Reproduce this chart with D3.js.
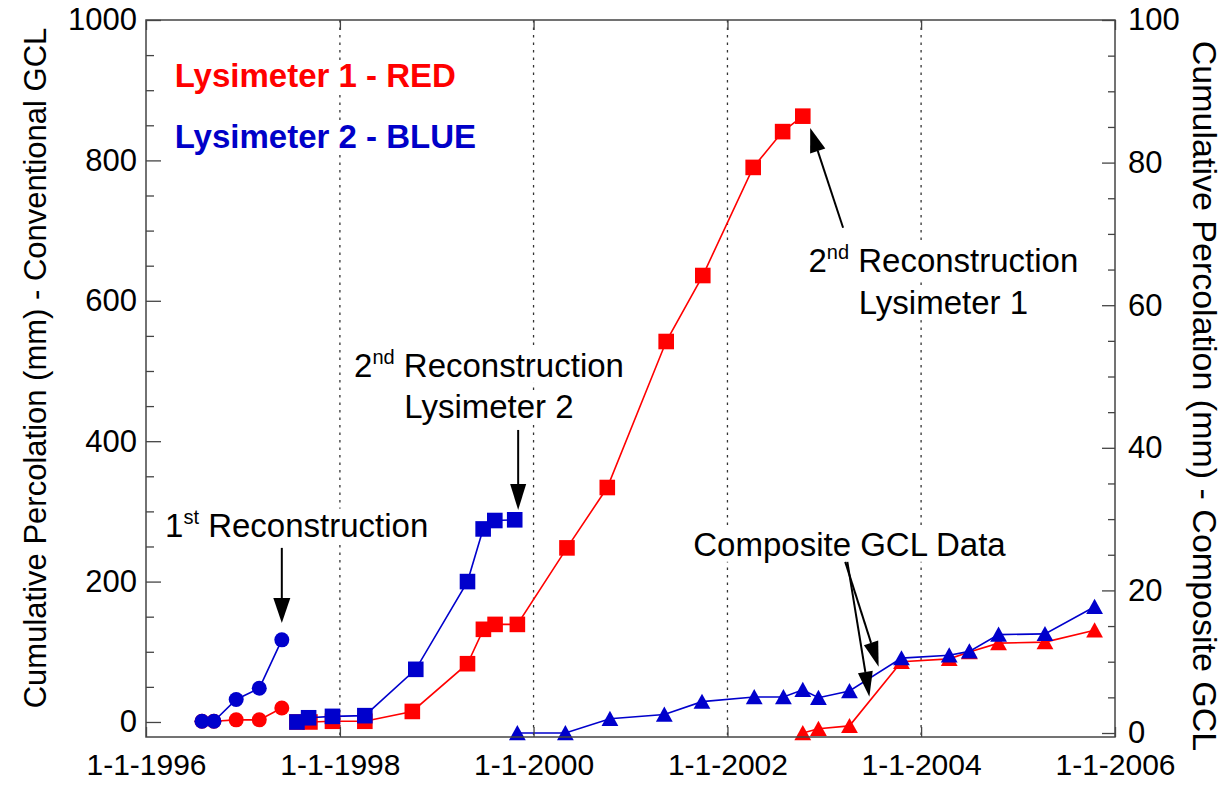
<!DOCTYPE html>
<html>
<head>
<meta charset="utf-8">
<script src="https://cdn.jsdelivr.net/npm/d3@7"></script>
<style>
  body { margin: 0; background: #fff; }
  svg { display: block; }
  text { font-family: "Liberation Sans", Arial, Helvetica, sans-serif; white-space: pre; }
</style>
</head>
<body>
<svg id="chart" width="1223" height="791"></svg>
<script>
// ---- Data -------------------------------------------------------------
// First construction period (circles), left axis, mm
const circleDates = ["1996-07-30", "1996-09-13", "1996-12-06", "1997-03-03", "1997-05-27"];
const lys1CircleValues = [1, 1, 3, 3, 20];
const lys2CircleValues = [1, 1, 32, 48, 117];

// After first reconstruction (squares), left axis, mm
const lys1SquareDates = ["1997-07-23", "1997-09-10", "1997-12-04", "1998-04-05", "1998-10-01",
  "1999-04-27", "1999-06-26", "1999-08-09", "1999-11-01", "2000-05-06", "2000-10-05",
  "2001-05-15", "2001-09-30", "2002-04-08", "2002-07-28", "2002-10-12"];
const lys1SquareValues = [0, 0, 1, 1, 15, 83, 132, 139, 139, 248, 334, 542, 636, 790, 841, 863];

const lys2SquareDates = ["1997-07-23", "1997-09-05", "1997-12-04", "1998-04-05", "1998-10-14",
  "1999-04-27", "1999-06-25", "1999-08-08", "1999-10-22"];
const lys2SquareValues = [0, 6, 8, 9, 75, 200, 275, 287, 288];

// Composite GCL (triangles), right axis, mm
const lys2TriangleDates = ["1999-11-01", "2000-04-30", "2000-10-15", "2001-05-08", "2001-09-27",
  "2002-04-12", "2002-07-31", "2002-10-12", "2002-12-10", "2003-04-06", "2003-10-19",
  "2004-04-16", "2004-07-01", "2004-10-19", "2005-04-12", "2005-10-16"];
const lys2TriangleValues = [0, 0, 2.0, 2.6, 4.4, 5.05, 5.05, 6.05, 4.95, 5.9, 10.5, 10.9, 11.45, 13.8, 13.9, 17.7];

const lys1TriangleDates = ["2002-10-12", "2002-12-10", "2003-04-06", "2003-10-19", "2004-04-16",
  "2004-07-01", "2004-10-19", "2005-04-12", "2005-10-16"];
const lys1TriangleValues = [0, 0.6, 1.0, 10.0, 10.4, 11.35, 12.6, 12.75, 14.4];

// Axis ticks
const xTickYears = [1996, 1998, 2000, 2002, 2004, 2006];
const gridYears = [1998, 2000, 2002, 2004];
const leftTicks = [0, 200, 400, 600, 800, 1000];
const rightTicks = [0, 20, 40, 60, 80, 100];

const RED = "#ff0000";
const BLUE = "#0000cc";

// ---- Layout -------------------------------------------------------------
const svg = d3.select("#chart");
const plotL = 146, plotR = 1115, plotT = 20, plotB = 737;
const parse = d3.timeParse("%Y-%m-%d");

const x = d3.scaleTime()
  .domain([new Date(1996, 0, 1), new Date(2006, 0, 1)])
  .range([plotL, plotR]);
const yL = d3.scaleLinear().domain([-21.4, 1000]).range([plotB, plotT]);
const yR = d3.scaleLinear().domain([-0.56, 100]).range([plotB, plotT]);

const zip = (dates, vals) => dates.map((d, i) => ({ date: parse(d), value: vals[i] }));

// ---- Gridlines (dotted, at every other year) ---------------------------
svg.append("g").selectAll("line").data(gridYears).join("line")
  .attr("x1", d => x(new Date(d, 0, 1))).attr("x2", d => x(new Date(d, 0, 1)))
  .attr("y1", plotT).attr("y2", plotB)
  .attr("stroke", "#333").attr("stroke-width", 1.3)
  .attr("stroke-dasharray", "2.5,5");

// ---- Text helper with white knock-out box -------------------------------
const annot = svg.append("g");
function label(xp, yp, parts, opts = {}) {
  const g = annot.append("g");
  const t = g.append("text")
    .attr("x", xp).attr("y", yp)
    .attr("text-anchor", opts.anchor || "start")
    .attr("font-size", opts.size || 33)
    .attr("font-weight", opts.weight || "normal")
    .attr("fill", opts.color || "#000");
  parts.forEach(p => {
    const s = t.append("tspan").text(p.text);
    if (p.sup) s.attr("font-size", 20).attr("dy", -13);
    if (p.after) s.attr("dy", 13);
  });
  const b = t.node().getBBox();
  g.insert("rect", "text")
    .attr("x", b.x - 2).attr("y", b.y + 3).attr("width", b.width + 4).attr("height", b.height - 4)
    .attr("fill", "#fff");
}

// Legend
label(x(parse("1996-04-18")), yL(904.6), [{ text: "Lysimeter 1 - RED" }], { size: 33, weight: "bold", color: RED });
label(x(parse("1996-04-18")), yL(817.7), [{ text: "Lysimeter 2 - BLUE" }], { size: 33, weight: "bold", color: "#0000c8" });

// Annotations
label(x(parse("1996-03-13")), yL(264), [{ text: "1" }, { text: "st", sup: true }, { text: " Reconstruction", after: true }]);
label(x(parse("1999-07-17")), yL(491.6), [{ text: "2" }, { text: "nd", sup: true }, { text: " Reconstruction", after: true }], { anchor: "middle" });
label(x(parse("1999-07-17")), yL(433.3), [{ text: "Lysimeter 2" }], { anchor: "middle" });
label(x(parse("2004-03-25")), yL(641), [{ text: "2" }, { text: "nd", sup: true }, { text: " Reconstruction", after: true }], { anchor: "middle" });
label(x(parse("2004-03-25")), yL(581), [{ text: "Lysimeter 1" }], { anchor: "middle" });
label(x(parse("2003-04-06")), yL(236.8), [{ text: "Composite GCL Data" }], { anchor: "middle" });

// ---- Series -------------------------------------------------------------
const plot = svg.append("g");

function series(data, yScale, color, shape) {
  const line = d3.line().x(d => x(d.date)).y(d => yScale(d.value));
  plot.append("path").datum(data)
    .attr("d", line).attr("fill", "none")
    .attr("stroke", color).attr("stroke-width", 1.6);
  const m = plot.append("g").selectAll("path").data(data).join("path")
    .attr("fill", color)
    .attr("transform", d => `translate(${x(d.date)},${yScale(d.value)})`);
  if (shape === "circle") m.attr("d", d3.symbol(d3.symbolCircle, Math.PI * 7.5 * 7.5)());
  if (shape === "square") m.attr("d", "M-7.8,-7.8H7.8V7.8H-7.8Z");
  if (shape === "triangle") m.attr("d", "M0,-8L8.4,7.2L-8.4,7.2Z");
}

series(zip(circleDates, lys1CircleValues), yL, RED, "circle");
series(zip(lys1SquareDates, lys1SquareValues), yL, RED, "square");
series(zip(lys1TriangleDates, lys1TriangleValues), yR, RED, "triangle");
series(zip(circleDates, lys2CircleValues), yL, BLUE, "circle");
series(zip(lys2SquareDates, lys2SquareValues), yL, BLUE, "square");
series(zip(lys2TriangleDates, lys2TriangleValues), yR, BLUE, "triangle");

// ---- Arrows -------------------------------------------------------------
const arrows = svg.append("g");
function arrow(x1, y1, x2, y2, len = 25, w = 16) {
  const dx = x2 - x1, dy = y2 - y1, L = Math.hypot(dx, dy);
  const ux = dx / L, uy = dy / L;
  const bx = x2 - ux * len, by = y2 - uy * len;
  arrows.append("line").attr("x1", x1).attr("y1", y1).attr("x2", bx).attr("y2", by)
    .attr("stroke", "#000").attr("stroke-width", 2);
  arrows.append("path")
    .attr("d", `M${x2},${y2}L${bx - uy * w / 2},${by + ux * w / 2}L${bx + uy * w / 2},${by - ux * w / 2}Z`)
    .attr("fill", "#000");
}
arrow(x(parse("1997-05-27")), yL(248), x(parse("1997-05-27")), yL(141), 25, 17);
arrow(x(parse("1999-11-04")), yL(416), x(parse("1999-11-04")), yL(302), 26, 16);
arrow(x(parse("2003-03-13")), yL(704), x(parse("2002-11-09")), yL(846), 24, 16);
arrow(x(parse("2003-03-21")), yR(24.0), x(parse("2003-07-25")), yR(9.3), 25, 15);
arrow(x(parse("2003-03-29")), yR(24.0), x(parse("2003-06-20")), yR(5.1), 25, 15);

// ---- Axes ---------------------------------------------------------------
const axisColor = "#444";
function styleAxis(g, fontSize) {
  g.selectAll("path.domain").remove();
  g.selectAll(".tick line").attr("stroke", axisColor).attr("stroke-width", 1.3);
  g.selectAll(".tick text").attr("font-size", fontSize).attr("fill", "#000")
    .attr("font-family", '"Liberation Sans", Arial, sans-serif');
}

// Left axis: majors every 200, minors every 50
svg.append("g").attr("transform", `translate(${plotL},0)`)
  .call(d3.axisLeft(yL).tickValues(leftTicks).tickSizeInner(-15).tickSizeOuter(0).tickPadding(9).tickFormat(d3.format("d")))
  .call(g => styleAxis(g, 31));
svg.append("g").attr("transform", `translate(${plotL},0)`)
  .call(d3.axisLeft(yL).tickValues(d3.range(50, 1000, 50).filter(v => v % 200 !== 0)).tickSizeInner(-8).tickSizeOuter(0).tickFormat(""))
  .call(g => styleAxis(g, 0));

// Right axis: majors every 20, minors every 5
svg.append("g").attr("transform", `translate(${plotR},0)`)
  .call(d3.axisRight(yR).tickValues(rightTicks).tickSizeInner(-13).tickSizeOuter(0).tickPadding(13).tickFormat(d3.format("d")))
  .call(g => styleAxis(g, 31));
svg.append("g").attr("transform", `translate(${plotR},0)`)
  .call(d3.axisRight(yR).tickValues(d3.range(5, 100, 5).filter(v => v % 20 !== 0)).tickSizeInner(-7).tickSizeOuter(0).tickFormat(""))
  .call(g => styleAxis(g, 0));

// Bottom axis with date labels, top axis with ticks only
svg.append("g").attr("transform", `translate(0,${plotB})`)
  .call(d3.axisBottom(x).tickValues(xTickYears.map(yv => new Date(yv, 0, 1))).tickSizeInner(-10).tickSizeOuter(0).tickPadding(17)
    .tickFormat(d => `1-1-${d.getFullYear()}`))
  .call(g => styleAxis(g, 30));
svg.append("g").attr("transform", `translate(0,${plotT})`)
  .call(d3.axisTop(x).tickValues(xTickYears.map(yv => new Date(yv, 0, 1))).tickSizeInner(-10).tickSizeOuter(0).tickFormat(""))
  .call(g => styleAxis(g, 0));

// Frame
svg.append("rect").attr("x", plotL).attr("y", plotT)
  .attr("width", plotR - plotL).attr("height", plotB - plotT)
  .attr("fill", "none").attr("stroke", axisColor).attr("stroke-width", 1.5);

// Axis titles
svg.append("text")
  .attr("transform", `translate(35,368) rotate(-90)`)
  .attr("text-anchor", "middle").attr("dominant-baseline", "central")
  .attr("font-size", 31)
  .text("Cumulative Percolation (mm) - Conventional GCL");
svg.append("text")
  .attr("transform", `translate(1205,396) rotate(90)`)
  .attr("text-anchor", "middle").attr("dominant-baseline", "central")
  .attr("font-size", 34)
  .text("Cumulative Percolation (mm) - Composite GCL");
</script>
</body>
</html>
